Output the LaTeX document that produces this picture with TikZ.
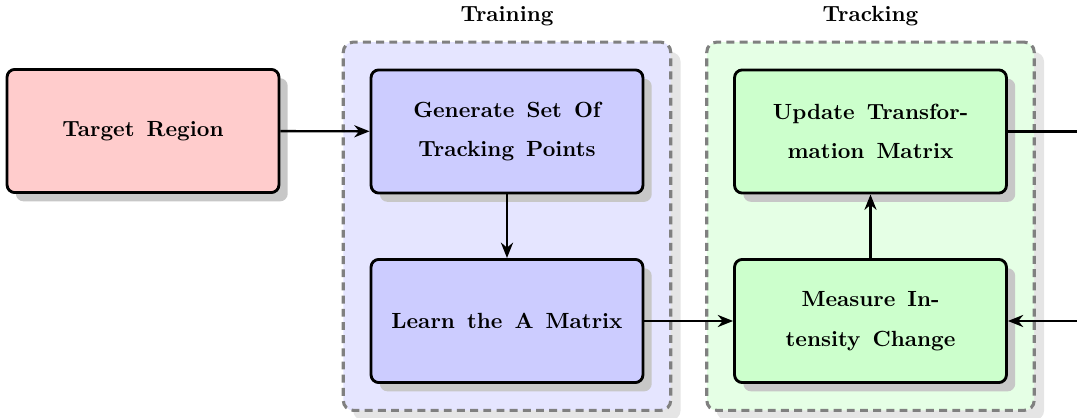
\documentclass[tikz,border=0pt]{standalone}
\usetikzlibrary{arrows.meta,shadows,fit,backgrounds}
\newcommand\boxfont{\bfseries\linespread{1.5}\selectfont\spaceskip=5.5pt\relax}
\tikzset{
  box/.style={draw, line width=1.3pt, rounded corners=3.5pt,
    minimum width=4.35cm, minimum height=1.97cm, align=center,
    font=\boxfont,
    drop shadow={shadow xshift=4pt, shadow yshift=-4pt, fill=black!22, opacity=1}},
  group/.style={draw=black!50, dash pattern=on 3.6pt off 2.4pt, line width=1.4pt,
    rounded corners=4.5pt, inner sep=12pt,
    label={[font=\bfseries, label distance=3pt]above:#1},
    drop shadow={shadow xshift=4.5pt, shadow yshift=-4.5pt, fill=black!10, opacity=1}},
  flow/.style={-{Stealth[length=7pt,width=5.5pt]}, line width=1.1pt}
}
\begin{document}
\begin{tikzpicture}
  \useasboundingbox (0,0) rectangle (17.232,-6.688);

  \node[box, fill=red!20]   (target)  at (2.288,-2.096)  {Target Region};
  \node[box, fill=blue!20]  (points)  at (8.112,-2.104)  {Generate Set Of\\Tracking Points};
  \node[box, fill=blue!20]  (learn)   at (8.112,-5.136)  {Learn the A Matrix};
  \node[box, fill=green!20] (update)  at (13.928,-2.104) {Update Transfor-\\mation Matrix};
  \node[box, fill=green!20] (measure) at (13.928,-5.136) {Measure In-\\tensity Change};

  \begin{scope}[on background layer]
    \node[group=Training, fill=blue!10, fit=(points) (learn)] (training) {};
    \node[group=Tracking, fill=green!10, fit=(update) (measure)] (tracking) {};
  \end{scope}

  \coordinate (out) at ([xshift=2cm]update.east);
  \coordinate (in)  at ([xshift=2cm]measure.east);

  \draw[flow] (target) -- (points);
  \draw[flow] (points) -- (learn);
  \draw[flow] (learn) -- (measure);
  \draw[flow] (measure) -- (update);
  \draw[line width=1.1pt] (update.east) -- (out);
  \draw[flow] (in) -- (measure.east);
\end{tikzpicture}
\end{document}
